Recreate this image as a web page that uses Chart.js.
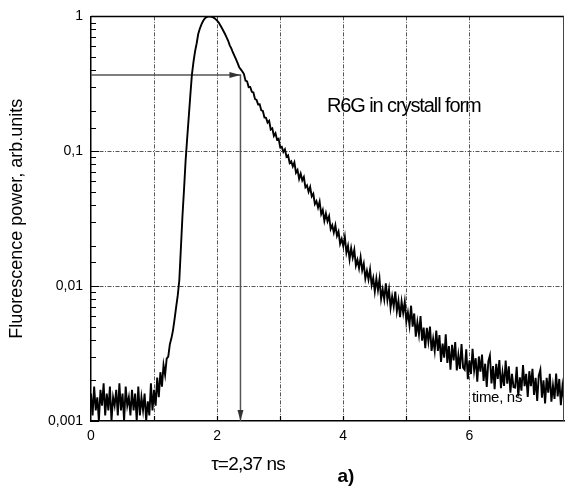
<!DOCTYPE html>
<html>
<head>
<meta charset="utf-8">
<script src="https://cdn.jsdelivr.net/npm/chart.js@4.4.1/dist/chart.umd.min.js"></script>
<style>
  html, body { margin: 0; padding: 0; background: #fff; overflow: hidden; }
  #wrap { width: 571px; height: 495px; }
</style>
</head>
<body>
<div id="wrap"><canvas id="c" width="571" height="495"></canvas></div>
<script>
'use strict';
// trace sampled every 0.025 ns starting at t = 0
const T_STEP = 0.025;

// 0 .. 0.975 ns, dark-count background
const baselineSignal = [
  0.0016, 0.0011, 0.0018, 0.0012, 0.0015, 0.0010, 0.0017, 0.0013,
  0.0019, 0.0011, 0.0016, 0.0012, 0.0018, 0.0010, 0.0015, 0.0013,
  0.0017, 0.0011, 0.0019, 0.0012, 0.0016, 0.0010, 0.0018, 0.0013,
  0.0015, 0.0011, 0.0017, 0.0012, 0.0016, 0.0010, 0.0018, 0.0011,
  0.0015, 0.0012, 0.0016, 0.0010, 0.0014, 0.0011, 0.0019, 0.0012,
];
// 1.0 .. 2.4 ns, rise and peak
const pulseSignal = [
  0.0017, 0.0013, 0.0021, 0.0015, 0.0023, 0.0018, 0.0026, 0.0022,
  0.0029, 0.0030, 0.0037, 0.0041, 0.0047, 0.0057, 0.0070, 0.0085,
  0.011, 0.019, 0.033, 0.052, 0.085, 0.125, 0.18, 0.26,
  0.37, 0.46, 0.55, 0.63, 0.74, 0.81, 0.87, 0.92,
  0.96, 0.985, 0.997, 1.0, 0.998, 0.99, 0.975, 0.955,
  0.93, 0.90, 0.86, 0.82, 0.78, 0.74, 0.70, 0.66,
  0.61, 0.58, 0.54, 0.51, 0.48, 0.45, 0.42, 0.405,
  0.39,
];
// 2.425 .. 4.5 ns, exponential part
const decaySignal = [
  0.374, 0.334, 0.330, 0.299, 0.300, 0.276, 0.273, 0.244, 0.240, 0.222, 0.223, 0.201, 0.199, 0.178, 0.177, 0.163,
  0.168, 0.145, 0.148, 0.130, 0.136, 0.122, 0.124, 0.107, 0.108, 0.0989, 0.1035, 0.0912, 0.0933, 0.0818, 0.0841, 0.0772,
  0.0827, 0.0693, 0.0727, 0.0624, 0.0682, 0.0609, 0.0644, 0.0540, 0.0558, 0.0500, 0.0543, 0.0463, 0.0484, 0.0406, 0.0427, 0.0382,
  0.0424, 0.0342, 0.0368, 0.0305, 0.0346, 0.0303, 0.0330, 0.0265, 0.0283, 0.0250, 0.0283, 0.0236, 0.0254, 0.0206, 0.0224, 0.0198,
  0.0232, 0.0177, 0.0199, 0.0158, 0.0191, 0.0163, 0.0186, 0.0142, 0.0157, 0.0136, 0.0164, 0.0131, 0.0147, 0.0114, 0.0130, 0.0112, 0.0133, 0.0102, 0.0115, 0.00912,
];
// 4.525 .. 7.5 ns, noisy tail
const tailSignal = [
  0.01136, 0.00935, 0.01134, 0.00805, 0.00946, 0.00798, 0.01047, 0.00791, 0.00946, 0.00689, 0.00839, 0.00708, 0.00912, 0.00652, 0.00780, 0.00589, 0.00768, 0.00632, 0.00766, 0.00545,
  0.00638, 0.00513, 0.00716, 0.00501, 0.00627, 0.00422, 0.00540, 0.00437, 0.00599, 0.00394, 0.00493, 0.00347, 0.00490, 0.00389, 0.00501, 0.00331, 0.00407, 0.00331, 0.00468, 0.00331,
  0.00433, 0.00274, 0.00375, 0.00295, 0.00439, 0.00270, 0.00359, 0.00240, 0.00367, 0.00281, 0.00385, 0.00237, 0.00308, 0.00243, 0.00372, 0.00249,
  0.00240, 0.00340, 0.00204, 0.00281, 0.00223, 0.00343, 0.00237, 0.00292, 0.00196, 0.00301, 0.00232, 0.00311, 0.00198, 0.00266, 0.00179, 0.00277,
  0.00306, 0.00190, 0.00255, 0.00172, 0.00265, 0.00205, 0.00283, 0.00175, 0.00229, 0.00182, 0.00281, 0.00189, 0.00254, 0.00162, 0.00224, 0.00178,
  0.00177, 0.00252, 0.00152, 0.00211, 0.00168, 0.00260, 0.00181, 0.00224, 0.00151, 0.00234, 0.00181, 0.00244, 0.00156, 0.00209, 0.00141, 0.00217,
  0.00240, 0.00149, 0.00200, 0.00135, 0.00209, 0.00162, 0.00224, 0.00139, 0.00183, 0.00146, 0.00225, 0.00152, 0.00205, 0.00131, 0.00181, 0.00145,
];

const xLabelled = [0, 2, 4, 6];
const yDecades = [1, 0.1, 0.01, 0.001];
const yDecadeText = ['1', '0,1', '0,01', '0,001'];
const yGridAt = [0.1, 0.01];

// lifetime marker: level 1/e reached at tau
const tau = 2.37;
const tauLevel = 0.368;

const FONT = '"Liberation Sans", Arial, sans-serif';

const signal = [...baselineSignal, ...pulseSignal, ...decaySignal, ...tailSignal];
const trace = signal.map((v, i) => ({ x: i * T_STEP, y: v }));
const tauPath = [{ x: 0, y: tauLevel }, { x: tau, y: tauLevel }, { x: tau, y: yDecades[3] }];

const near = (a, b) => Math.abs(a - b) < 1e-9 * Math.max(1, Math.abs(b));

const decor = {
  id: 'decor',
  afterDatasetsDraw(chart) {
    const { ctx, chartArea: a, scales: { x, y } } = chart;
    ctx.save();

    // frame top / right
    ctx.strokeStyle = '#000';
    ctx.lineWidth = 1.5;
    ctx.beginPath();
    ctx.moveTo(a.left, a.top); ctx.lineTo(a.right, a.top);
    ctx.stroke();
    ctx.strokeStyle = '#444';
    ctx.lineWidth = 1;
    ctx.beginPath();
    ctx.moveTo(a.right - 0.5, a.top); ctx.lineTo(a.right - 0.5, a.bottom);
    ctx.stroke();

    // inward ticks
    ctx.strokeStyle = '#000';
    ctx.lineWidth = 1.2;
    ctx.beginPath();
    y.ticks.forEach(t => {
      const e = Math.log10(t.value);
      const major = Math.abs(e - Math.round(e)) < 1e-6;
      const py = Math.round(y.getPixelForValue(t.value)) + 0.5;
      ctx.moveTo(a.left, py);
      ctx.lineTo(a.left + (major ? 8 : 5), py);
    });
    x.ticks.forEach(t => {
      if (!Number.isInteger(t.value) || t.value === 0) return;
      const px = Math.round(x.getPixelForValue(t.value)) + 0.5;
      ctx.moveTo(px, a.bottom);
      ctx.lineTo(px, a.bottom - 5);
    });
    ctx.stroke();

    // arrow heads of the tau marker
    const px = x.getPixelForValue(tau);
    const py = y.getPixelForValue(tauLevel);
    ctx.fillStyle = '#333';
    ctx.beginPath();
    ctx.moveTo(px, py); ctx.lineTo(px - 11, py - 3); ctx.lineTo(px - 11, py + 3);
    ctx.closePath(); ctx.fill();
    ctx.beginPath();
    ctx.moveTo(px, a.bottom); ctx.lineTo(px - 3, a.bottom - 11); ctx.lineTo(px + 3, a.bottom - 11);
    ctx.closePath(); ctx.fill();

    // annotations
    ctx.fillStyle = '#000';
    ctx.textBaseline = 'alphabetic';
    ctx.textAlign = 'left';
    ctx.font = '20px ' + FONT;
    ctx.letterSpacing = '-1.1px';
    ctx.fillText('R6G in crystall form', 327, 112);

    ctx.font = '15px ' + FONT;
    ctx.letterSpacing = '-0.3px';
    ctx.fillText('time, ns', 472, 402);

    ctx.textAlign = 'center';
    ctx.font = '19px ' + FONT;
    ctx.letterSpacing = '-0.8px';
    ctx.fillText('τ=2,37 ns', 248, 470);

    ctx.font = 'bold 19px ' + FONT;
    ctx.letterSpacing = '0px';
    ctx.fillText('a)', 346, 482);
    ctx.restore();
  }
};

new Chart(document.getElementById('c'), {
  type: 'line',
  data: {
    datasets: [
      {
        data: trace,
        borderColor: '#000',
        borderWidth: 1.9,
        pointRadius: 0,
        tension: 0,
        order: 1,
      },
      {
        data: tauPath,
        borderColor: '#555',
        borderWidth: 1.5,
        pointRadius: 0,
        tension: 0,
        order: 2,
      },
    ],
  },
  options: {
    responsive: false,
    animation: false,
    devicePixelRatio: 1,
    layout: { padding: { top: 15, right: 1, left: 0, bottom: 0 } },
    plugins: { legend: { display: false }, tooltip: { enabled: false } },
    scales: {
      x: {
        type: 'linear',
        min: 0, max: 7.5,
        afterFit: s => { s.height = 74; },
        ticks: {
          stepSize: 1, autoSkip: false, maxRotation: 0, padding: 7,
          color: '#000', font: { family: FONT, size: 14 },
          callback: v => (xLabelled.includes(v) ? String(v) : ''),
        },
        grid: {
          drawTicks: false,
          lineWidth: 1,
          color: c => (c.tick && Number.isInteger(c.tick.value) && c.tick.value > 0 ? '#555' : 'rgba(0,0,0,0)'),
        },
        border: { display: true, color: '#000', width: 1.5, dash: [4, 1.5, 1, 1.5] },
      },
      y: {
        type: 'logarithmic',
        min: 0.001, max: 1,
        afterFit: s => { s.width = 91; },
        ticks: {
          autoSkip: false, padding: 8,
          color: '#000', font: { family: FONT, size: 14 },
          callback: v => {
            const k = yDecades.findIndex(d => near(v, d));
            return k >= 0 ? yDecadeText[k] : '';
          },
        },
        grid: {
          drawTicks: false,
          lineWidth: 1,
          color: c => (c.tick && yGridAt.some(g => near(c.tick.value, g)) ? '#555' : 'rgba(0,0,0,0)'),
        },
        border: { display: true, color: '#000', width: 1.5, dash: [4, 1.5, 1, 1.5] },
        title: {
          display: true,
          text: 'Fluorescence power, arb.units',
          color: '#000',
          font: { family: FONT, size: 18 },
          padding: { top: 6, bottom: 0 },
        },
      },
    },
  },
  plugins: [decor],
});
</script>
</body>
</html>
